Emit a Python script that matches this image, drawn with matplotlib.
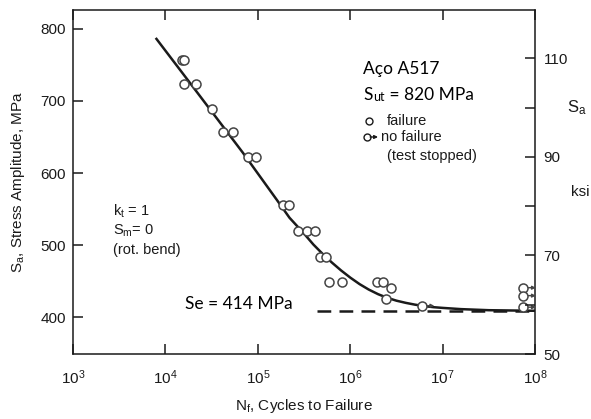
import numpy as np
import matplotlib
matplotlib.use("Agg")
import matplotlib.pyplot as plt

plt.rcParams['font.family'] = ['Liberation Sans', 'DejaVu Sans']
plt.rcParams['mathtext.fontset'] = 'custom'
plt.rcParams['mathtext.rm'] = 'Liberation Sans'
plt.rcParams['mathtext.it'] = 'Liberation Sans'

# S-N curve (cycles, MPa)
curve_N = [8.0e3, 2.0e4, 6.9e4, 1.6e5, 2.2e5, 3.16e5, 3.98e5, 5.01e5, 6.31e5,
           7.94e5, 1.0e6, 1.26e6, 1.58e6, 2.0e6, 2.51e6, 3.16e6, 3.98e6,
           5.01e6, 6.31e6, 7.94e6, 1.0e7, 1.58e7, 3.16e7, 1.0e8]
curve_S = [786, 719, 628, 563, 538, 516, 501, 488, 476,
           465, 455, 446, 438.5, 432, 427, 423, 420,
           417.5, 415.5, 414, 413, 411.3, 409.8, 409]

# failures
fail_N = [1.50e4, 1.60e4, 1.60e4, 2.14e4, 3.19e4, 4.24e4, 5.43e4, 7.9e4, 9.55e4,
          1.89e5, 2.18e5, 2.74e5, 3.38e5, 4.16e5, 4.71e5, 5.47e5,
          5.94e5, 8.09e5, 1.94e6, 2.28e6, 2.74e6, 2.44e6]
fail_S = [757, 757, 723, 723, 689, 657, 657, 622, 622,
          555, 555, 519, 519, 519, 484, 484,
          449, 449, 449, 449, 440, 426]

# run-outs (no failure)
run_N = [5.94e6, 7.46e7, 7.46e7, 7.46e7]
run_S = [416, 441, 430, 414]

Se = 409
ksi_ticks = [50, 60, 70, 80, 90, 100, 110]
ksi_labels = ['50', '', '70', '', '90', '', '110']
x_ticks = [1e3, 1e4, 1e5, 1e6, 1e7, 1e8]

ink = '#1a1a1a'
fig = plt.figure(figsize=(5.91, 4.19), dpi=100)
ax = fig.add_axes([0.1235, 0.155, 0.782, 0.821])

ax.plot(curve_N, curve_S, color=ink, lw=1.8, zorder=3)
ax.plot([4.4e5, 1e8], [Se, Se], color=ink, lw=1.8, dashes=(5.5, 3.3), zorder=2)
ax.plot(fail_N, fail_S, 'o', ms=6.5, mfc='white', mec='#444444', mew=1.1, zorder=4)
ax.plot(run_N, run_S, 'o', ms=6.5, mfc='white', mec='#444444', mew=1.1, zorder=4)
for n, s in zip(run_N, run_S):
    ax.annotate('', xy=(n, s), xytext=(9, 0), textcoords='offset points',
                arrowprops=dict(arrowstyle='<|-', color='#444444', lw=1,
                                mutation_scale=5, shrinkA=0, shrinkB=3.5), zorder=4)

ax.set_xscale('log')
ax.set_xlim(1e3, 1e8)
ax.set_ylim(349, 826)
ax.set_xticks(x_ticks)
ax.xaxis.set_minor_locator(matplotlib.ticker.NullLocator())
ax.set_yticks([400, 500, 600, 700, 800])
ax.tick_params(direction='in', length=7, width=1.1, color=ink, labelsize=11,
               labelcolor=ink, top=True)
ax.tick_params(axis='x', pad=10)
ax.tick_params(axis='y', pad=5)
for sp in ax.spines.values():
    sp.set_color(ink)
    sp.set_linewidth(1.1)

ax2 = ax.twinx()
ax2.set_ylim(349 / 6.895, 826 / 6.895)
ax2.set_yticks(ksi_ticks)
ax2.set_yticklabels(ksi_labels)
ax2.tick_params(direction='in', length=7, width=1.1, color=ink, labelsize=11,
                labelcolor=ink, pad=6)
for sp in ax2.spines.values():
    sp.set_visible(False)

ax.set_xlabel(r'N$_\mathregular{f}$, Cycles to Failure', fontsize=11, color=ink)
ax.xaxis.set_label_coords(0.5, -0.125)
ax.set_ylabel(r'S$_\mathregular{a}$, Stress Amplitude, MPa', fontsize=11, color=ink)
ax.yaxis.set_label_coords(-0.1, 0.5)

ax.text(1.091, 0.715, r'S$_\mathregular{a}$', transform=ax.transAxes, fontsize=12,
        color=ink, ha='center', va='center')
ax.text(1.097, 0.471, 'ksi', transform=ax.transAxes, fontsize=11,
        color=ink, ha='center', va='center')

ax.text(0.087, 0.414, r'k$_\mathregular{t}$ = 1', transform=ax.transAxes,
        fontsize=10.5, color=ink, va='center')
ax.text(0.087, 0.358, r'S$_\mathregular{m}$= 0', transform=ax.transAxes,
        fontsize=10.5, color=ink, va='center')
ax.text(0.087, 0.302, '(rot. bend)', transform=ax.transAxes,
        fontsize=10.5, color=ink, va='center')

cal = ['Lato', 'DejaVu Sans']
ax.text(0.628, 0.828, 'Aço A517', transform=ax.transAxes, fontsize=12.5,
        family=cal, color='black', va='center')
t1 = ax.text(0.628, 0.753, 'S', transform=ax.transAxes, fontsize=12.5,
             family=cal, color='black', va='center')
t2 = ax.annotate('ut', xy=(1, 0), xycoords=t1, fontsize=9, family=cal,
                 color='black', va='bottom', xytext=(0.5, 0),
                 textcoords='offset points')
ax.annotate(' = 820 MPa', xy=(1, 0), xycoords=t2, fontsize=12.5, family=cal,
            color='black', va='bottom')
ax.text(0.242, 0.145, 'Se = 414 MPa', transform=ax.transAxes, fontsize=12.5,
        family=cal, color='black', va='center')

ax.plot([0.641], [0.677], 'o', ms=5, mfc='white', mec=ink, mew=1,
        transform=ax.transAxes, clip_on=False)
ax.plot([0.637], [0.631], 'o', ms=5, mfc='white', mec=ink, mew=1,
        transform=ax.transAxes, clip_on=False)
ax.annotate('', xy=(0.660, 0.631), xytext=(0.643, 0.631), xycoords='axes fraction',
            arrowprops=dict(arrowstyle='-|>', color=ink, lw=1, mutation_scale=5,
                            shrinkA=0, shrinkB=0))
ax.text(0.679, 0.677, 'failure', transform=ax.transAxes, fontsize=10.5,
        color=ink, va='center')
ax.text(0.666, 0.631, 'no failure', transform=ax.transAxes, fontsize=10.5,
        color=ink, va='center')
ax.text(0.679, 0.576, '(test stopped)', transform=ax.transAxes, fontsize=10.5,
        color=ink, va='center')

fig.savefig('out.png', dpi=100)
